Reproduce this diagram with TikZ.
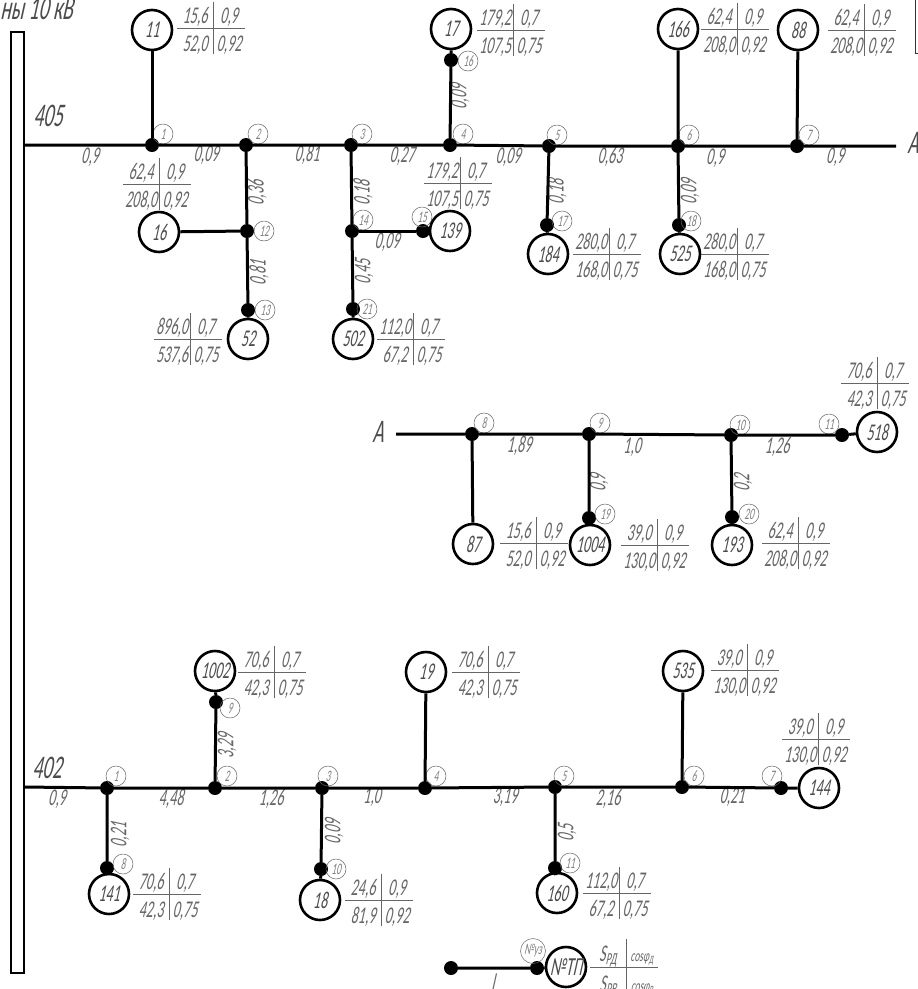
\documentclass[tikz,border=0pt]{standalone}
\usepackage{fontspec}
\usepackage{tikz}
\newfontfamily\gost[FakeSlant=0.22,FakeStretch=0.58]{Carlito}
\newcommand{\tabl}[4]{\setlength{\tabcolsep}{0pt}\setlength{\arrayrulewidth}{.8pt}\renewcommand{\arraystretch}{0}%
  \begin{tabular}{c|c}
    \makebox[36pt]{#1}\rule[-4pt]{0pt}{26pt} & \makebox[32pt]{#2}\\ \hline
    \makebox[36pt]{#3}\rule[-3pt]{0pt}{26pt} & \makebox[32pt]{#4}
  \end{tabular}}
\begin{document}
\begin{tikzpicture}
    [x=1pt,y=-1pt,
     tp/.style={circle,draw,line width=2.6pt,minimum size=40pt,inner sep=0pt,text=black!70,font=\gost\fontsize{24}{24}\selectfont},
     uzel/.style={circle,fill=black,minimum size=14pt,inner sep=0pt},
     num/.style={circle,draw=black!60,line width=.5pt,minimum size=20pt,inner sep=0pt,text=black!50,font=\gost\fontsize{16}{16}\selectfont},
     tabl/.style={inner sep=0pt,outer sep=0pt,xshift=-2pt,draw=none,text=black!60,font=\gost\fontsize{24}{24}\selectfont},
     len/.style={inner sep=0pt,text=black!60,font=\gost\fontsize{24}{24}\selectfont},
     lenv/.style={len,rotate=90},
     big/.style={inner sep=0pt,text=black!70,font=\gost\fontsize{33}{33}\selectfont},
     wire/.style={line width=3pt}]
    \useasboundingbox (0,0) rectangle (918,989);
    \node[big,anchor=west,font=\gost\fontsize{34}{34}\selectfont] (title) at (0,9) {ны 10 кВ};
    \node[draw,line width=1.6pt,minimum width=13pt,minimum height=941pt,inner sep=0pt] (bar) at (17.5,502.5) {};
    \draw[line width=.8pt,black!80] (918,53) coordinate (corner2) -- (915,53) coordinate (corner1) -- (915,0) coordinate (corner0);
    % fider 405
    \coordinate (b405) at (24,145);
    \coordinate (endA) at (896,146);
    \node[big] (l405) at (48,116) {405};
    \node[big] (la) at (913,143) {A};
    \node[uzel] (a1) at (152,145) {};
    \node[uzel] (a2) at (246,145) {};
    \node[uzel] (a3) at (351,145) {};
    \node[uzel] (a4) at (450,145) {};
    \node[uzel] (a5) at (549,146) {};
    \node[uzel] (a6) at (678,146) {};
    \node[uzel] (a7) at (797,146) {};
    \node[uzel] (a12) at (247,231) {};
    \node[uzel] (a13) at (248,310) {};
    \node[uzel] (a14) at (352,231) {};
    \node[uzel] (a15) at (423,231) {};
    \node[uzel] (a16) at (451,60) {};
    \node[uzel] (a17) at (547,225) {};
    \node[uzel] (a18) at (679,225) {};
    \node[uzel] (a21) at (353,309) {};
    \node[num] (na1) at (163,134) {1};
    \node[num] (na2) at (258,134) {2};
    \node[num] (na3) at (362,134) {3};
    \node[num] (na4) at (463,134) {4};
    \node[num] (na5) at (557,135) {5};
    \node[num] (na6) at (689,135) {6};
    \node[num] (na7) at (809,135) {7};
    \node[num] (na12) at (264,231) {12};
    \node[num] (na13) at (265,310) {13};
    \node[num] (na14) at (363,220) {14};
    \node[num] (na15) at (422,217) {15};
    \node[num] (na16) at (468,61) {16};
    \node[num] (na17) at (562,221) {17};
    \node[num] (na18) at (691,221) {18};
    \node[num] (na21) at (367,309) {21};
    \node[tp] (tp11) at (152,30) {11};
    \node[tp] (tp16) at (159,232) {16};
    \node[tp] (tp52) at (248,339) {52};
    \node[tp] (tp17) at (451,29) {17};
    \node[tp] (tp139) at (450,231) {139};
    \node[tp] (tp502) at (353,339) {502};
    \node[tp] (tp184) at (548,254) {184};
    \node[tp] (tp525) at (680,254) {525};
    \node[tp] (tp166) at (678,29) {166};
    \node[tp] (tp88) at (798,30) {88};
    \node[tabl] (tb11) at (213,28) {\tabl{15,6}{0,9}{52,0}{0,92}};
    \node[tabl] (tb16) at (159,184) {\tabl{62,4}{0,9}{208,0}{0,92}};
    \node[tabl] (tb52) at (190,339) {\tabl{896,0}{0,7}{537,6}{0,75}};
    \node[tabl] (tb502) at (413,339) {\tabl{112,0}{0,7}{67,2}{0,75}};
    \node[tabl] (tb139) at (460,183) {\tabl{179,2}{0,7}{107,5}{0,75}};
    \node[tabl] (tb17) at (513,30) {\tabl{179,2}{0,7}{107,5}{0,75}};
    \node[tabl] (tb184) at (609,254) {\tabl{280,0}{0,7}{168,0}{0,75}};
    \node[tabl] (tb525) at (737,254) {\tabl{280,0}{0,7}{168,0}{0,75}};
    \node[tabl] (tb166) at (737,29) {\tabl{62,4}{0,9}{208,0}{0,92}};
    \node[tabl] (tb88) at (864,30) {\tabl{62,4}{0,9}{208,0}{0,92}};
    \node[len] (e1) at (90,157) {0,9};
    \node[len] (e2) at (206,155) {0,09};
    \node[len] (e3) at (307,155) {0,81};
    \node[len] (e4) at (402,156) {0,27};
    \node[len] (e5) at (508,157) {0,09};
    \node[len] (e6) at (610,157) {0,63};
    \node[len] (e7) at (715,158) {0,9};
    \node[len] (e8) at (835,157) {0,9};
    \node[len] (e15) at (387,242) {0,09};
    \node[lenv] (e12) at (257,193) {0,36};
    \node[lenv] (e13) at (259,273) {0,81};
    \node[lenv] (e14) at (363,193) {0,18};
    \node[lenv] (e21) at (364,272) {0,45};
    \node[lenv] (e16) at (460,97) {0,09};
    \node[lenv] (e17) at (557,192) {0,18};
    \node[lenv] (e18) at (690,192) {0,09};
    \draw[wire] (b405) -- (a1) -- (a2) -- (a3) -- (a4) -- (a5) -- (a6) -- (a7) -- (endA);
    \draw[wire] (tp11) -- (a1);
    \draw[wire] (a2) -- (a12) -- (a13) -- (tp52);
    \draw[wire] (tp16) -- (a12);
    \draw[wire] (a3) -- (a14) -- (a21) -- (tp502);
    \draw[wire] (a14) -- (a15) -- (tp139);
    \draw[wire] (tp17) -- (a16) -- (a4);
    \draw[wire] (a5) -- (a17) -- (tp184);
    \draw[wire] (tp166) -- (a6) -- (a18) -- (tp525);
    \draw[wire] (tp88) -- (a7);
    % prodolzhenie A
    \coordinate (startA) at (396,434);
    \node[big] (la2) at (378,432) {A};
    \node[uzel] (a8) at (472,434) {};
    \node[uzel] (a9) at (589,434) {};
    \node[uzel] (a10) at (731,435) {};
    \node[uzel] (a11) at (842,435) {};
    \node[uzel] (a19) at (589,518) {};
    \node[uzel] (a20) at (732,517) {};
    \node[num] (na8) at (484,423) {8};
    \node[num] (na9) at (600,423) {9};
    \node[num] (na10) at (740,425) {10};
    \node[num] (na11) at (829,424) {11};
    \node[num] (na19) at (605,514) {19};
    \node[num] (na20) at (749,514) {20};
    \node[tp] (tp87) at (473,544) {87};
    \node[tp] (tp1004) at (590,545) {1004};
    \node[tp] (tp193) at (732,545) {193};
    \node[tp] (tp518) at (877,432) {518};
    \node[tabl] (tb87) at (536,543) {\tabl{15,6}{0,9}{52,0}{0,92}};
    \node[tabl] (tb1004) at (657,545) {\tabl{39,0}{0,9}{130,0}{0,92}};
    \node[tabl] (tb193) at (798,543) {\tabl{62,4}{0,9}{208,0}{0,92}};
    \node[tabl] (tb518) at (877,383) {\tabl{70,6}{0,7}{42,3}{0,75}};
    \node[len] (e9) at (519,446) {1,89};
    \node[len] (e10) at (632,447) {1,0};
    \node[len] (e11) at (777,447) {1,26};
    \node[lenv] (e19) at (599,483) {0,9};
    \node[lenv] (e20) at (743,483) {0,2};
    \draw[wire] (startA) -- (a8) -- (a9) -- (a10) -- (a11) -- (tp518);
    \draw[wire] (a8) -- (tp87);
    \draw[wire] (a9) -- (a19) -- (tp1004);
    \draw[wire] (a10) -- (a20) -- (tp193);
    % fider 402
    \coordinate (b402) at (24,787);
    \node[big] (l402) at (47,768) {402};
    \node[uzel] (c1) at (107,788) {};
    \node[uzel] (c2) at (215,788) {};
    \node[uzel] (c3) at (322,788) {};
    \node[uzel] (c4) at (425,788) {};
    \node[uzel] (c5) at (555,787) {};
    \node[uzel] (c6) at (682,787) {};
    \node[uzel] (c7) at (781,788) {};
    \node[uzel] (c8) at (107,868) {};
    \node[uzel] (c9) at (216,702) {};
    \node[uzel] (c10) at (321,869) {};
    \node[uzel] (c11) at (555,868) {};
    \node[num] (nc1) at (116,776) {1};
    \node[num] (nc2) at (227,776) {2};
    \node[num] (nc3) at (328,776) {3};
    \node[num] (nc4) at (436,776) {4};
    \node[num] (nc5) at (564,776) {5};
    \node[num] (nc6) at (694,776) {6};
    \node[num] (nc7) at (772,776) {7};
    \node[num] (nc8) at (123,864) {8};
    \node[num] (nc9) at (230,708) {9};
    \node[num] (nc10) at (336,869) {10};
    \node[num] (nc11) at (570,863) {11};
    \node[tp] (tp1002) at (215,671) {1002};
    \node[tp] (tp19) at (426,672) {19};
    \node[tp] (tp535) at (683,671) {535};
    \node[tp] (tp144) at (819,788) {144};
    \node[tp] (tp141) at (109,894) {141};
    \node[tp] (tp18) at (320,900) {18};
    \node[tp] (tp160) at (557,893) {160};
    \node[tabl] (tb1002) at (274,672) {\tabl{70,6}{0,7}{42,3}{0,75}};
    \node[tabl] (tb19) at (488,672) {\tabl{70,6}{0,7}{42,3}{0,75}};
    \node[tabl] (tb535) at (747,670) {\tabl{39,0}{0,9}{130,0}{0,92}};
    \node[tabl] (tb144) at (818,739) {\tabl{39,0}{0,9}{130,0}{0,92}};
    \node[tabl] (tb141) at (169,894) {\tabl{70,6}{0,7}{42,3}{0,75}};
    \node[tabl] (tb18) at (381,900) {\tabl{24,6}{0,9}{81,9}{0,92}};
    \node[tabl] (tb160) at (619,893) {\tabl{112,0}{0,7}{67,2}{0,75}};
    \node[len] (g1) at (57,799) {0,9};
    \node[len] (g2) at (171,799) {4,48};
    \node[len] (g3) at (271,799) {1,26};
    \node[len] (g4) at (372,797) {1,0};
    \node[len] (g5) at (505,797) {3,19};
    \node[len] (g6) at (608,799) {2,16};
    \node[len] (g7) at (732,797) {0,21};
    \node[lenv] (g8) at (120,835) {0,21};
    \node[lenv] (g9) at (227,746) {3,29};
    \node[lenv] (g10) at (334,832) {0,09};
    \node[lenv] (g11) at (567,833) {0,5};
    \draw[wire] (b402) -- (c1) -- (c2) -- (c3) -- (c4) -- (c5) -- (c6) -- (c7) -- (tp144);
    \draw[wire] (c1) -- (c8) -- (tp141);
    \draw[wire] (tp1002) -- (c9) -- (c2);
    \draw[wire] (c3) -- (c10) -- (tp18);
    \draw[wire] (tp19) -- (c4);
    \draw[wire] (c5) -- (c11) -- (tp160);
    \draw[wire] (tp535) -- (c6);
    % uslovnye oboznacheniya
    \node[uzel] (k1) at (451,968) {};
    \node[uzel] (k2) at (537,968) {};
    \node[num,minimum size=25pt,font=\gost\fontsize{16}{16}\selectfont] (nk2) at (533,951) {№уз};
    \node[tp,font=\gost\fontsize{26}{26}\selectfont] (tpN) at (566,967) {№ТП};
    \node[tabl] (tbN) at (626,967) {\tabl{S\textsubscript{РД}}{\fontsize{16}{16}\selectfont cosφ\textsubscript{Д}}{S\textsubscript{РВ}}{\fontsize{16}{16}\selectfont cosφ\textsubscript{В}}};
    \node[len] (ll) at (493,982) {l};
    \draw[wire] (k1) -- (k2) -- (tpN);
\end{tikzpicture}
\end{document}
